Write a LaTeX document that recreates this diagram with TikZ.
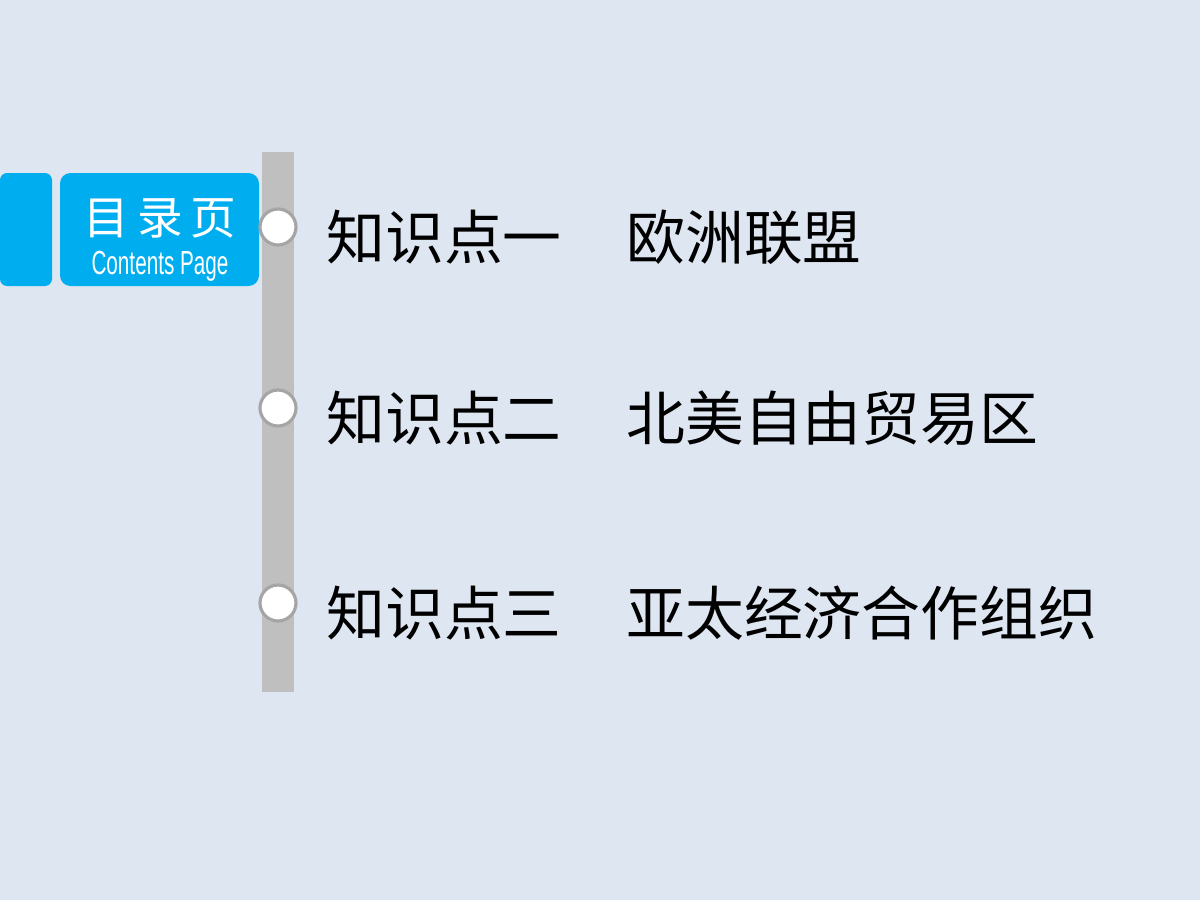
\documentclass[tikz,border=0pt]{standalone}
\usepackage{fontspec}
\newfontfamily\cjk{Noto Sans CJK SC}
\newfontfamily\narrow[FakeStretch=0.62]{Liberation Sans}
\usetikzlibrary{positioning}
\definecolor{bgblue}{RGB}{222,230,242}
\definecolor{tabblue}{RGB}{0,174,239}
\definecolor{railgray}{RGB}{191,191,191}
\definecolor{ringgray}{RGB}{165,165,165}
\tikzset{
  item/.style={anchor=west, inner sep=0pt, font=\cjk\fontsize{33.5}{33.5}\selectfont},
  stop/.style={circle, draw=ringgray, line width=1.8pt, fill=white, minimum size=0.72cm, inner sep=0pt}
}
\begin{document}
\begin{tikzpicture}[x=0.02cm, y=-0.02cm]
  % 背景
  \fill[bgblue] (0,0) rectangle (1200,900);
  \useasboundingbox (0,0) rectangle (1200,900);

  % 标签
  \fill[tabblue, rounded corners=4pt] (0,173) rectangle (52,286);
  \fill[tabblue, rounded corners=6pt] (60,173) rectangle (259,286);
  \node[text=white, font=\cjk\fontsize{26}{26}\selectfont] (title) at (160,218) {目\,录\,页};
  \node[text=white, font=\narrow\fontsize{19}{19}\selectfont] (sub) at (160,266) {Contents Page};

  % 竖线
  \fill[railgray] (262,152) rectangle (294,692);

  % 条目
  \foreach \n/\y/\a/\b in {1/227/知识点一/欧洲联盟, 2/408/知识点二/北美自由贸易区, 3/603/知识点三/亚太经济合作组织} {
    \node[stop] (s\n) at (278,\y) {};
    \node[item] (k\n) at (326,\y+10) {\a};
    \node[item] (t\n) at (626,\y+10) {\b};
  }
\end{tikzpicture}
\end{document}
